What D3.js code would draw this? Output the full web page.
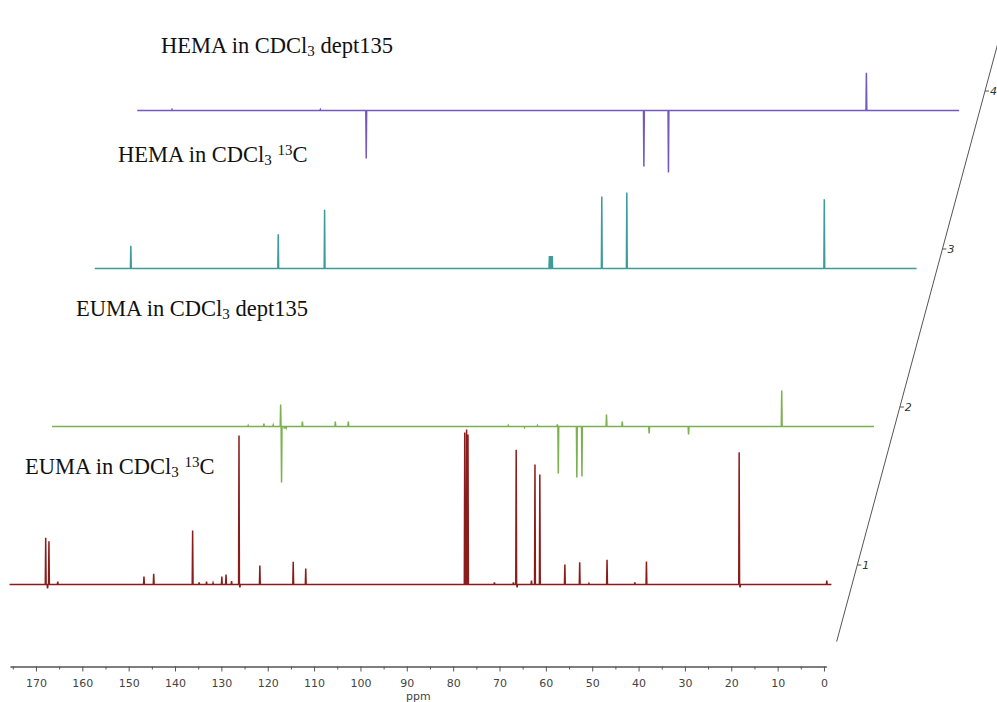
<!DOCTYPE html>
<html lang="en">
<head>
    <meta charset="UTF-8">
    <title>13C / DEPT135 stacked spectra</title>
    <style>
        body { margin: 0; background: #fff; }
        #SVG { display: block; background: #fff; }
        .label { font-family: "Liberation Serif", "Times New Roman", serif; font-size: 22.5px; fill: #111; }
        .axis text { font-family: "DejaVu Sans", sans-serif; font-size: 11px; fill: #444; }
        .axis path, .axis line { stroke: #555; }
    </style>
</head>
<body>
    <svg id="SVG"></svg>
    <script src="https://cdn.jsdelivr.net/npm/d3@7"></script>
    <script>
        var width = 997;
        var height = 702;

        // ---------- data (ppm, intensity in arbitrary units) ----------
        // layer 1: EUMA 13C
        const eumaCPpm = [167.9, 167.5, 167.2, 165.3, 146.7, 144.6, 136.2, 134.8, 133.2, 131.8, 129.9, 129.0, 127.8,
            126.2, 126.0, 121.7, 114.5, 111.8, 77.5, 77.1, 76.8, 71.1, 67.0, 66.4, 66.2, 63.1, 62.35, 61.3,
            55.9, 52.7, 50.7, 46.8, 40.8, 38.3, 18.3, 18.1, -0.6];
        const eumaCInt = [46.7, -4, 43.3, 3, 8, 10.7, 54, 2, 3, 1.5, 8, 10, 3.5,
            149, -3, 19, 22.7, 16, 152, 155, 150, 2, 2, 134.7, -3, 4, 120, 110,
            20, 22.3, 1, 24.7, 2, 23, 132.3, -3, 4];

        // layer 2: EUMA dept135
        const eumaDPpm = [133.4, 130.0, 128.0, 126.4, 126.2, 125.6, 125.2, 121.7, 114.6, 111.8, 77.3, 73.8, 71.0,
            66.7, 66.5, 62.5, 61.4, 56.1, 52.7, 46.9, 38.4, 18.3];
        const eumaDInt = [1, 3, 1.5, 22, -56, -2, -1.5, 5, 5, 5, 1, -1, 1,
            2, -47, -51, -50, 12, 5, -7, -8, 36];

        // layer 3: HEMA 13C
        const hemaCPpm = [167.9, 136.1, 126.1, 77.6, 77.3, 77.0, 66.3, 60.9, 18.3];
        const hemaCInt = [22.7, 34.3, 58.7, 12.5, 12.5, 12.5, 72, 76, 69.3];

        // layer 4: HEMA dept135
        const hemaDPpm = [168.2, 136.2, 126.3, 66.4, 61.1, 18.4];
        const hemaDInt = [1, 1, -48, -56, -62, 37.7];

        const layerTicks = [1, 2, 3, 4];
        const majorTicks = [170, 160, 150, 140, 130, 120, 110, 100, 90, 80, 70, 60, 50, 40, 30, 20, 10, 0];
        const minorTicks = [175, 165, 155, 145, 135, 125, 115, 105, 95, 85, 75, 65, 55, 45, 35, 25, 15, 5];
        const spectraColors = ["#8b1c1c", "#7db04f", "#3d9b9a", "#7458c0"];

        var spectra = [
            { layer: 1, ppm: eumaCPpm, val: eumaCInt },
            { layer: 2, ppm: eumaDPpm, val: eumaDInt },
            { layer: 3, ppm: hemaCPpm, val: hemaCInt },
            { layer: 4, ppm: hemaDPpm, val: hemaDInt }
        ];

        var svg = d3.select("#SVG")
            .attr("width", width)
            .attr("height", height);

        // ppm scale (reversed, as usual for NMR)
        var x = d3.scaleLinear().domain([175.6, -0.5]).range([10, 826.3]);
        // intensity -> pixel offset from the baseline
        var y = d3.scaleLinear().domain([0, 100]).range([0, -100]);
        // oblique stacking axis
        var layerX = d3.scaleLinear().domain([1, 4]).range([857.3, 985]);
        var layerY = d3.scaleLinear().domain([1, 4]).range([565, 91]);

        // build a stick spectrum path: flat baseline with narrow peaks
        function buildPoints(s) {
            var pts = [[175.7, 0]];
            var w = 0.09;
            s.ppm.forEach(function (p, i) {
                pts.push([p + w, 0], [p, s.val[i]], [p - w, 0]);
            });
            pts.push([-1.6, 0]);
            return pts;
        }

        var line = d3.line()
            .x(d => x(d[0]))
            .y(d => y(d[1]));

        spectra.forEach(function (s, i) {
            var dx = layerX(s.layer) - layerX(1);
            var dy = layerY(s.layer) + 19.5;
            svg.append("path")
                .attr("transform", `translate(${dx}, ${dy})`)
                .attr("d", line(buildPoints(s)))
                .attr("fill", "none")
                .attr("stroke", spectraColors[i])
                .attr("stroke-width", 1.5)
                .attr("stroke-linejoin", "miter");
        });

        // ---------- bottom ppm axis ----------
        var axisG = svg.append("g").attr("class", "axis").attr("transform", "translate(0, 666.5)");
        axisG.append("g").call(d3.axisBottom(x).tickValues(minorTicks).tickSize(3).tickSizeOuter(0).tickFormat(""));
        axisG.append("g").call(d3.axisBottom(x).tickValues(majorTicks).tickSize(5).tickSizeOuter(0).tickPadding(7.5));
        axisG.append("text")
            .attr("x", x(87.5))
            .attr("y", 33.5)
            .attr("text-anchor", "middle")
            .text("ppm");

        // ---------- oblique layer axis ----------
        var obl = svg.append("g").attr("class", "axis");
        obl.append("line")
            .attr("x1", layerX(0.515)).attr("y1", layerY(0.515))
            .attr("x2", layerX(4.5)).attr("y2", layerY(4.5))
            .attr("stroke", "#555").attr("stroke-width", 1);
        layerTicks.forEach(function (k) {
            obl.append("line")
                .attr("x1", layerX(k)).attr("y1", layerY(k))
                .attr("x2", layerX(k) + 4).attr("y2", layerY(k));
            obl.append("text")
                .attr("x", layerX(k) + 5)
                .attr("y", layerY(k))
                .attr("dy", "0.35em")
                .style("font-style", "italic")
                .style("fill", "#333")
                .text(k);
        });

        // ---------- spectrum labels ----------
        var labels = [
            { x: 25, y: 474, tail: "13C" },
            { x: 76, y: 316, tail: "dept135" },
            { x: 118, y: 162, tail: "13C" },
            { x: 161, y: 53, tail: "dept135" }
        ];
        var labelNames = ["EUMA", "EUMA", "HEMA", "HEMA"];

        labels.forEach(function (l, i) {
            var t = svg.append("text").attr("class", "label").attr("x", l.x).attr("y", l.y);
            t.append("tspan").text(labelNames[i] + " in CDCl");
            t.append("tspan").attr("dy", 2.5).style("font-size", "15px").text("3");
            if (l.tail === "13C") {
                t.append("tspan").attr("dy", -2.5).text(" ");
                t.append("tspan").attr("dy", -7).style("font-size", "15px").text("13");
                t.append("tspan").attr("dy", 7).text("C");
            } else {
                t.append("tspan").attr("dy", -2.5).text(" dept135");
            }
        });
    </script>
</body>
</html>
